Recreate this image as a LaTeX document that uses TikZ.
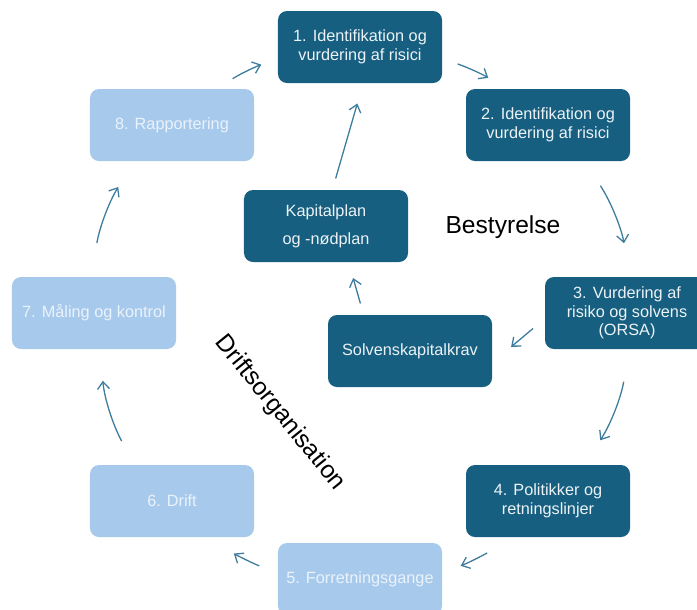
\documentclass[tikz,border=0pt]{standalone}
\usepackage{fontspec}
\setmainfont{Liberation Sans}
\usetikzlibrary{arrows.meta}
\definecolor{darkbox}{HTML}{165F80}
\definecolor{lightbox}{HTML}{A7CAEC}
\definecolor{lighttext}{HTML}{EAF2FB}
\definecolor{arrowblue}{HTML}{3D7C9C}
\begin{document}
\begin{tikzpicture}[x=0.03cm,y=-0.03cm,
	box/.style={rectangle,rounded corners=0.27cm,minimum width=4.92cm,minimum height=2.16cm,inner sep=0pt,align=center,font=\fontsize{13.9}{15.8}\selectfont},
	dark/.style={box,fill=darkbox,text=white!92!darkbox},
	light/.style={box,fill=lightbox,text=lighttext},
	flow/.style={draw=arrowblue,line width=1.1pt,-{Straight Barb[length=2.2mm,width=3.6mm,line width=1.1pt]}},
	title/.style={font=\fontsize{21}{24}\selectfont}]
		\useasboundingbox (0,0) rectangle (697,609);
		\node[dark] (1) at (360,47) {1. Identifikation og\\vurdering af risici};
		\node[dark] (2) at (548,125) {2. Identifikation og\\vurdering af risici};
		\node[dark] (3) at (627,313) {3. Vurdering af\\risiko og solvens\\(ORSA)};
		\node[dark] (4) at (548,501) {4. Politikker og\\retningslinjer};
		\node[light] (5) at (360,579) {5. Forretningsgange};
		\node[light] (6) at (172,501) {6. Drift};
		\node[light] (7) at (94,313) {7. Måling og kontrol};
		\node[light] (8) at (172,125) {8. Rapportering};
		\node[dark] (kap) at (326,226) {Kapitalplan\\[8pt]og -nødplan};
		\node[dark] (solv) at (410,351) {Solvenskapitalkrav};
		\node[title] (best) at (503,227) {Bestyrelse};
		\node[title,rotate=-51] (drift) at (280,413) {Driftsorganisation};

		\draw (1.-8) edge[flow,bend left=6,shorten <=14,shorten >=18] (2.139);
		\draw (2.-45) edge[flow,bend left=12,shorten <=25,shorten >=29] (3.86);
		\draw (3.-87) edge[flow,bend left=12,shorten <=28,shorten >=25] (4.45);
		\draw (4.-136) edge[flow,bend left=6,shorten <=24,shorten >=17] (5.4);
		\draw (5.176) edge[flow,bend left=6,shorten <=17,shorten >=25] (6.-44);
		\draw (6.136) edge[flow,bend left=12,shorten <=23,shorten >=27] (7.-80);
		\draw (7.93) edge[flow,bend left=12,shorten <=29,shorten >=26] (8.-136);
		\draw (8.39) edge[flow,bend left=6,shorten <=16,shorten >=15] (1.-172);

		\draw (3.-176) edge[flow,shorten <=13,shorten >=21] (solv.-8);
		\draw (solv.142) edge[flow,shorten <=10,shorten >=14] (kap.-58);
		\draw (kap.80) edge[flow,shorten <=10,shorten >=18] (1.-85);
	\end{tikzpicture}
\end{document}
